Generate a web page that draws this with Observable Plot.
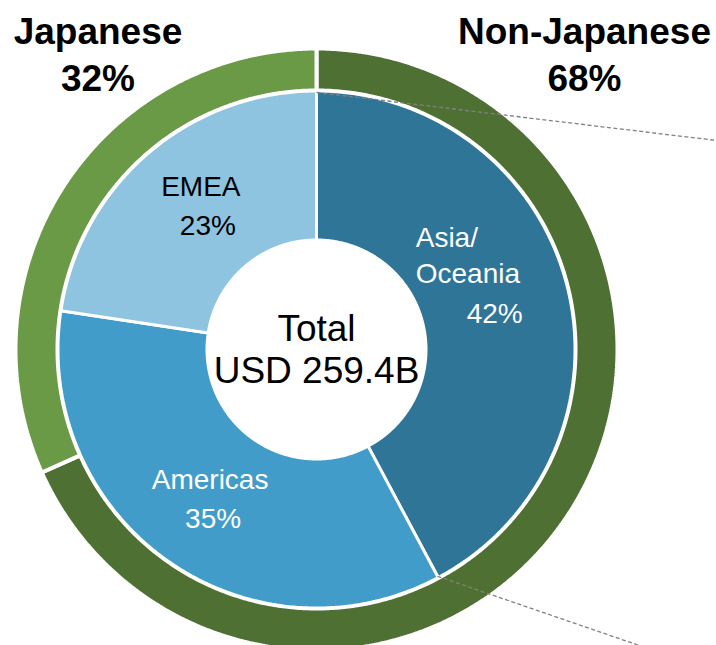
<!DOCTYPE html>
<html><head><meta charset="utf-8">
<script src="https://cdn.jsdelivr.net/npm/d3@7"></script>
<script src="https://cdn.jsdelivr.net/npm/@observablehq/plot@0.6"></script>
<style>body{margin:0;background:#fff;overflow:hidden}</style>
</head><body><div id="chart"></div>
<script>
// ---- data ----
const regions = ["Asia/Oceania", "Americas", "EMEA"];
const regionShares = [42.2, 35.2, 22.6];          // slice sizes
const regionLabels = ["42%", "35%", "23%"];        // printed labels
const origins = ["Non-Japanese", "Japanese"];
const originShares = [68.3, 31.7];
const originLabels = ["68%", "32%"];
const centerLines = ["Total", "USD 259.4B"];

// ---- layout / style ----
const W = 716, H = 645, CX = 316, CY = 349;
const colors = {"Asia/Oceania": "#2E7598", "Americas": "#419CC9", "EMEA": "#8EC4DF",
                "Non-Japanese": "#4E7033", "Japanese": "#6A9A45"};
const font = "Liberation Sans, Arial, Helvetica, sans-serif";

function ringPoints(names, shares, r0, r1) {
  const pts = [];
  let acc = 0;
  names.forEach((n, i) => {
    const a0 = acc / 100 * 2 * Math.PI, a1 = (acc + shares[i]) / 100 * 2 * Math.PI;
    acc += shares[i];
    const steps = Math.max(2, Math.ceil((a1 - a0) / (Math.PI / 360)));
    for (let k = 0; k <= steps; k++) {
      const a = a0 + (a1 - a0) * k / steps;
      pts.push({name: n, x: r1 * Math.sin(a), y: -r1 * Math.cos(a)});
    }
    for (let k = steps; k >= 0; k--) {
      const a = a0 + (a1 - a0) * k / steps;
      pts.push({name: n, x: r0 * Math.sin(a), y: -r0 * Math.cos(a)});
    }
  });
  return pts;
}
function midAngles(shares) {
  let acc = 0;
  return shares.map(s => { const m = (acc + s / 2) / 100 * 2 * Math.PI; acc += s; return m; });
}
function polar(r, a) { return [r * Math.sin(a), -r * Math.cos(a)]; }

const outerPts = ringPoints(origins, originShares, 259, 301);
const innerPts = ringPoints(regions, regionShares, 109.5, 258.5);

// slice labels: anchored at the slice mid-angle, with per-line offsets
const mids = midAngles(regionShares);
const labelR = 184;
const [asiaA, asiaB] = ["Asia/", "Oceania"];
const lineSpecs = [
  [{t: asiaA, dx: -79, dy: -57, anchor: "start"}, {t: asiaB, dx: -79, dy: -21, anchor: "start"}, {t: regionLabels[0], dx: 28, dy: 19, anchor: "end"}],
  [{t: regions[1], dx: -3, dy: -13, anchor: "middle"}, {t: regionLabels[1], dx: 0, dy: 26, anchor: "middle"}],
  [{t: regions[2], dx: 6, dy: -15, anchor: "middle"}, {t: regionLabels[2], dx: 13, dy: 24, anchor: "middle"}]
];
// correct for mid-angle shift so text stays where it was
const baseMids = midAngles([42, 35, 23]);
const textColor = ["white", "white", "black"];
const sliceLabels = [];
regions.forEach((r, i) => {
  const [px, py] = polar(labelR, baseMids[i]);
  lineSpecs[i].forEach(l => sliceLabels.push({text: l.t, x: px + l.dx, y: py + l.dy, anchor: l.anchor, color: textColor[i]}));
});

const centerLabels = [
  {text: centerLines[0], x: 0, y: -9},
  {text: centerLines[1], x: 0, y: 33}
];
const titleLabels = [
  {text: origins[1], x: -218.5, y: -306}, {text: originLabels[1], x: -218.5, y: -259},
  {text: origins[0], x: 268, y: -306}, {text: originLabels[0], x: 268, y: -259}
];

// connector lines from the Asia/Oceania slice edges
const asiaA0 = 0, asiaA1 = regionShares[0] / 100 * 2 * Math.PI;
const [s1x, s1y] = polar(257, asiaA0);
const [s2x, s2y] = polar(257, asiaA1);
const connectors = [
  {x1: s1x, y1: s1y, x2: W - CX, y2: s1y + 0.12 * (W - CX - s1x)},
  {x1: s2x, y1: s2y, x2: s2x + (H - CY - s2y + 2) / 0.343, y2: H - CY + 2}
];

const txt = (data, anchor, opts) => Plot.text(data.filter(d => !anchor || d.anchor === anchor), {
  x: "x", y: "y", text: "text", lineAnchor: "bottom", textAnchor: anchor || "middle",
  fontFamily: font, ...opts
});

const chart = Plot.plot({
  width: W, height: H,
  margin: 0,
  x: {domain: [-CX, W - CX], range: [0, W], axis: null},
  y: {domain: [-CY, H - CY], range: [0, H], axis: null},
  color: {domain: [...regions, ...origins], range: [...regions, ...origins].map(k => colors[k])},
  style: {fontFamily: font, background: "white", overflow: "visible"},
  marks: [
    Plot.line(outerPts, {x: "x", y: "y", z: "name", fill: "name", stroke: "white", strokeWidth: 4, curve: "linear-closed", strokeLinejoin: "miter"}),
    Plot.line(innerPts, {x: "x", y: "y", z: "name", fill: "name", stroke: "white", strokeWidth: 3, curve: "linear-closed", strokeLinejoin: "miter"}),
    Plot.link(connectors, {x1: "x1", y1: "y1", x2: "x2", y2: "y2", stroke: "#808080", strokeWidth: 1.3, strokeDasharray: "4,2.5"}),
    txt(sliceLabels, "start", {fill: {value: d => d.color, scale: null}, fontSize: 28}),
    txt(sliceLabels, "middle", {fill: {value: d => d.color, scale: null}, fontSize: 28}),
    txt(sliceLabels, "end", {fill: {value: d => d.color, scale: null}, fontSize: 28}),
    txt(centerLabels, null, {fill: "black", fontSize: 37}),
    txt(titleLabels, null, {fill: "black", fontSize: 37, fontWeight: "bold"})
  ]
});
document.getElementById("chart").appendChild(chart);
</script>
</body></html>
